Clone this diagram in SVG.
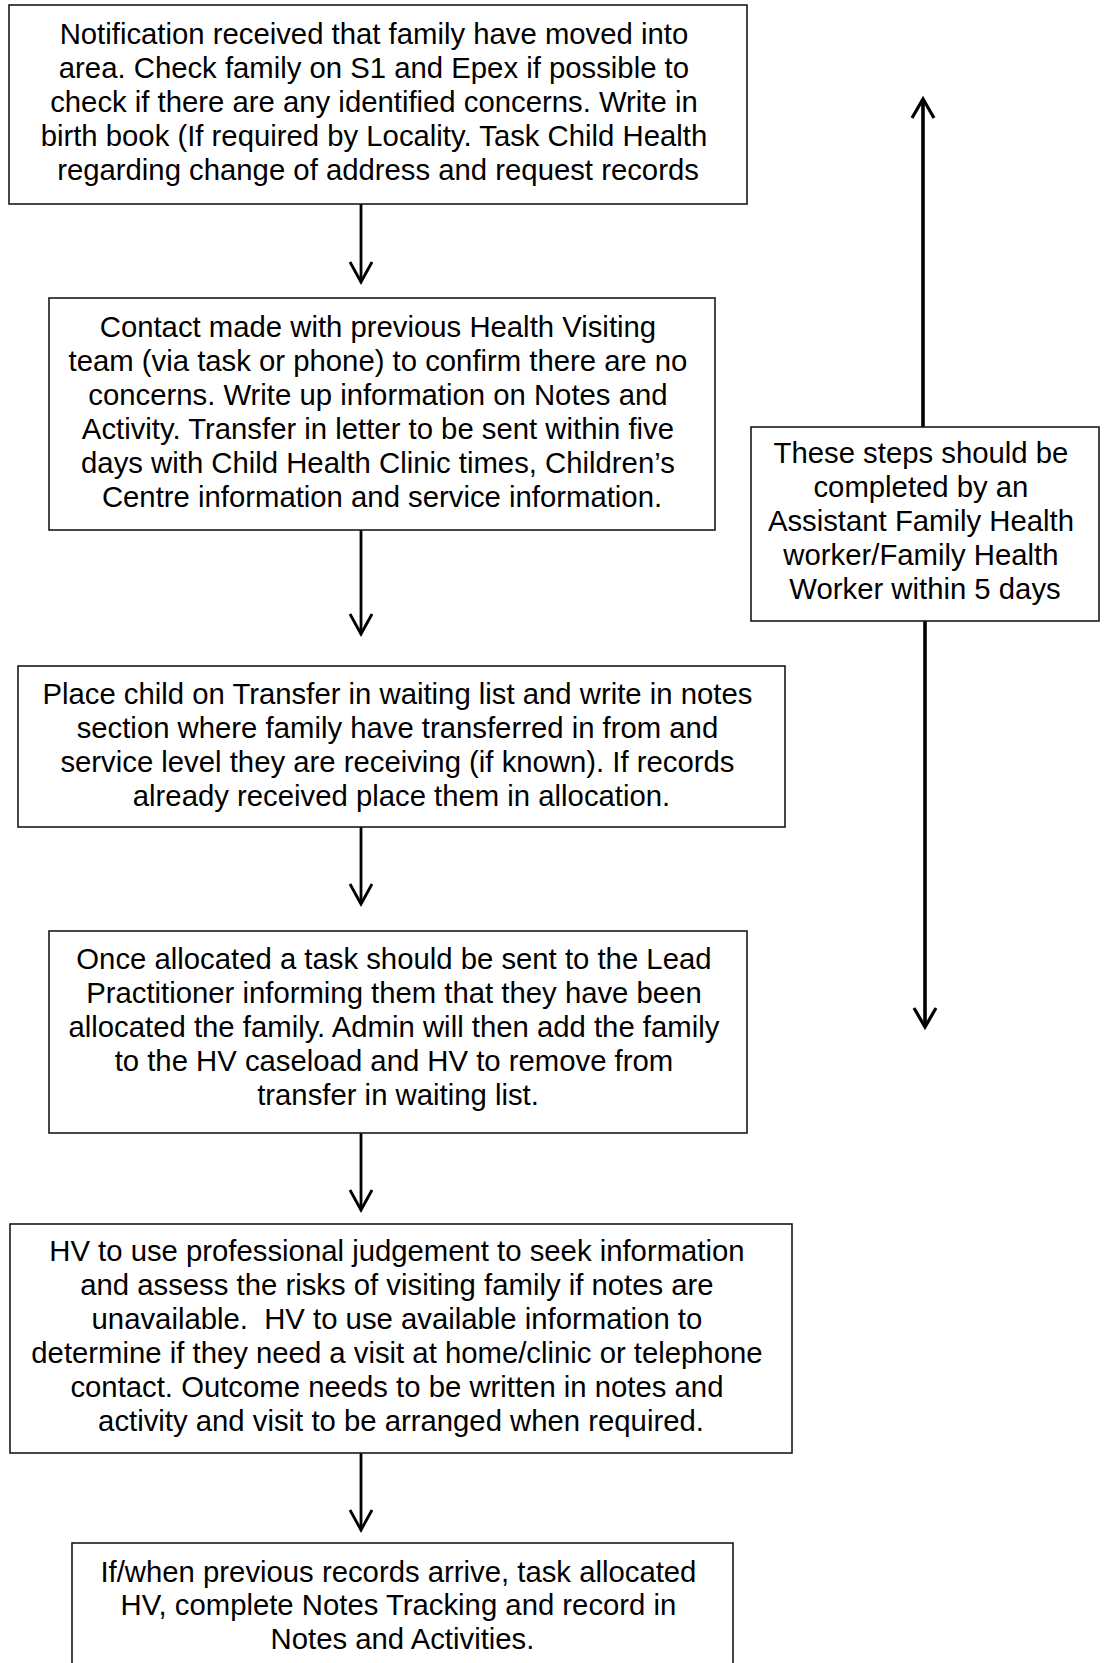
<svg xmlns="http://www.w3.org/2000/svg" width="1106" height="1663" viewBox="0 0 1106 1663">
  <defs>
    <style>
      .box { fill: #ffffff; stroke: #1a1a1a; stroke-width: 1.6; }
      .txt { font-family: "Liberation Sans", Arial, sans-serif; font-size: 29.3px; fill: #000000; text-anchor: middle; }
      .flow { fill: none; stroke: #000000; stroke-width: 2.8; marker-end: url(#chevron); }
      .span { fill: none; stroke: #000000; stroke-width: 3.6; marker-end: url(#chevron-bold); }
    </style>
    <!-- open V arrowheads -->
    <marker id="chevron" markerUnits="userSpaceOnUse" viewBox="-22 -13 24 26" refX="0" refY="0" markerWidth="24" markerHeight="26" orient="auto" overflow="visible">
      <path d="M-20,-11 L0,0 L-20,11" fill="none" stroke="#000000" stroke-width="2.8" stroke-linejoin="miter"/>
    </marker>
    <marker id="chevron-bold" markerUnits="userSpaceOnUse" viewBox="-22 -13 24 26" refX="0" refY="0" markerWidth="24" markerHeight="26" orient="auto" overflow="visible">
      <path d="M-19,-11 L0,0 L-19,11" fill="none" stroke="#000000" stroke-width="3.2" stroke-linejoin="miter"/>
    </marker>
  </defs>

  <rect width="1106" height="1663" fill="#ffffff"/>

  <!-- connectors -->
  <g id="connectors">
    <path class="flow" d="M361,204 V282"/>
    <path class="flow" d="M361,530 V634"/>
    <path class="flow" d="M361,827 V904"/>
    <path class="flow" d="M361,1133 V1210"/>
    <path class="flow" d="M361,1453 V1530"/>
    <path class="span" d="M923,427 V99"/>
    <path class="span" d="M925,621 V1027"/>
  </g>

  <g id="step-notification">
    <rect class="box" x="9" y="5" width="738" height="199"/>
    <text class="txt">
      <tspan x="378" y="43.5">Notification received that family have moved into</tspan>
      <tspan x="378" y="77.5">area. Check family on S1 and Epex if possible to</tspan>
      <tspan x="378" y="111.5">check if there are any identified concerns. Write in</tspan>
      <tspan x="378" y="145.5">birth book (If required by Locality. Task Child Health</tspan>
      <tspan x="378" y="179.5">regarding change of address and request records</tspan>
    </text>
  </g>

  <g id="step-contact">
    <rect class="box" x="49" y="298" width="666" height="232"/>
    <text class="txt">
      <tspan x="382" y="337">Contact made with previous Health Visiting</tspan>
      <tspan x="382" y="371">team (via task or phone) to confirm there are no</tspan>
      <tspan x="382" y="405">concerns. Write up information on Notes and</tspan>
      <tspan x="382" y="439">Activity. Transfer in letter to be sent within five</tspan>
      <tspan x="382" y="473">days with Child Health Clinic times, Children’s</tspan>
      <tspan x="382" y="507">Centre information and service information.</tspan>
    </text>
  </g>

  <g id="step-waiting-list">
    <rect class="box" x="18" y="666" width="767" height="161"/>
    <text class="txt">
      <tspan x="401.5" y="704">Place child on Transfer in waiting list and write in notes</tspan>
      <tspan x="401.5" y="738">section where family have transferred in from and</tspan>
      <tspan x="401.5" y="772">service level they are receiving (if known). If records</tspan>
      <tspan x="401.5" y="806">already received place them in allocation.</tspan>
    </text>
  </g>

  <g id="step-allocation">
    <rect class="box" x="49" y="931" width="698" height="202"/>
    <text class="txt">
      <tspan x="398" y="968.5">Once allocated a task should be sent to the Lead</tspan>
      <tspan x="398" y="1002.5">Practitioner informing them that they have been</tspan>
      <tspan x="398" y="1036.5">allocated the family. Admin will then add the family</tspan>
      <tspan x="398" y="1070.5">to the HV caseload and HV to remove from</tspan>
      <tspan x="398" y="1104.5">transfer in waiting list.</tspan>
    </text>
  </g>

  <g id="step-hv-judgement">
    <rect class="box" x="10" y="1224" width="782" height="229"/>
    <text class="txt">
      <tspan x="401" y="1261">HV to use professional judgement to seek information</tspan>
      <tspan x="401" y="1295">and assess the risks of visiting family if notes are</tspan>
      <tspan x="401" y="1329">unavailable.&#160; HV to use available information to</tspan>
      <tspan x="401" y="1363">determine if they need a visit at home/clinic or telephone</tspan>
      <tspan x="401" y="1397">contact. Outcome needs to be written in notes and</tspan>
      <tspan x="401" y="1431">activity and visit to be arranged when required.</tspan>
    </text>
  </g>

  <g id="step-records-arrive">
    <rect class="box" x="72" y="1543" width="661" height="140"/>
    <text class="txt">
      <tspan x="402.5" y="1581.5">If/when previous records arrive, task allocated</tspan>
      <tspan x="402.5" y="1615">HV, complete Notes Tracking and record in</tspan>
      <tspan x="402.5" y="1648.5">Notes and Activities.</tspan>
    </text>
  </g>

  <g id="note-assistant">
    <rect class="box" x="751" y="427" width="348" height="194"/>
    <text class="txt">
      <tspan x="925" y="463">These steps should be</tspan>
      <tspan x="925" y="497">completed by an</tspan>
      <tspan x="925" y="531">Assistant Family Health</tspan>
      <tspan x="925" y="565">worker/Family Health</tspan>
      <tspan x="925" y="599">Worker within 5 days</tspan>
    </text>
  </g>
</svg>
